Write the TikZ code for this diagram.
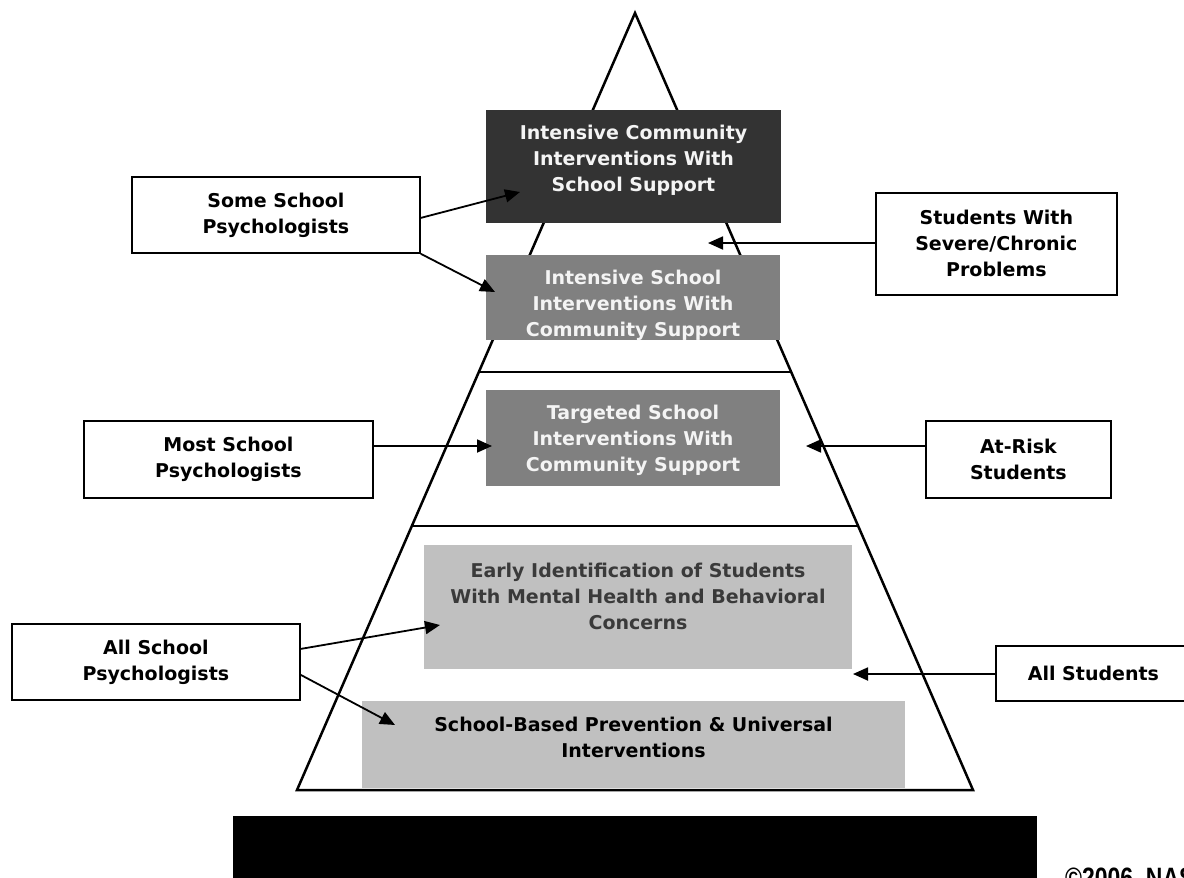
\documentclass[tikz,border=0pt]{standalone}
\usepackage{fontspec}
\setmainfont{DejaVu Sans}
\newfontfamily\copyfont{Liberation Sans}
\usetikzlibrary{arrows.meta}
\definecolor{tierA}{HTML}{333333}
\definecolor{tierB}{HTML}{808080}
\definecolor{tierC}{HTML}{C0C0C0}
\definecolor{txtA}{HTML}{F4F4F4}
\definecolor{txtC}{HTML}{3A3A3A}
\begin{document}
\begin{tikzpicture}[x=1pt,y=-1pt,
  txt/.style={font=\fontsize{19}{26}\selectfont\bfseries, align=center, inner sep=0pt},
  lbl/.style={draw=black, line width=1.8pt, fill=white, anchor=north west, inner sep=0pt},
  tier/.style={anchor=north west, inner sep=0pt, draw=none},
  arr/.style={line width=1.8pt, -{Triangle[length=15pt,width=13pt]}},
  edge/.style={line width=2.5pt, line join=miter},
  sep/.style={line width=2.2pt}
]
\clip (0,0) rectangle (1184,878);
\fill[white] (0,0) rectangle (1184,878);
% pyramid outline
\coordinate (apex) at (635,13);
\coordinate (bl) at (297,790);
\coordinate (br) at (973,790);
\draw[edge] (bl) -- (apex) -- (br) -- cycle;
% separators
\coordinate (s1l) at (479,372);
\coordinate (s1r) at (791,372);
\coordinate (s2l) at (412,526);
\coordinate (s2r) at (858,526);
\draw[sep] (s1l) -- (s1r);
\draw[sep] (s2l) -- (s2r);
% tiers
\node[tier, fill=tierA, minimum width=295pt, minimum height=113pt] (b1) at (486,110) {};
\node[tier, fill=tierB, minimum width=294pt, minimum height=85pt] (b2) at (486,255) {};
\node[tier, fill=tierB, minimum width=294pt, minimum height=96pt] (b3) at (486,390) {};
\node[tier, fill=tierC, minimum width=428pt, minimum height=124pt] (b4) at (424,545) {};
\node[tier, fill=tierC, minimum width=543pt, minimum height=87pt] (b5) at (362,701) {};
\node[txt, text=txtA] (t1) at (633.5,160) {Intensive Community\\Interventions With\\School Support};
\node[txt, text=txtA] (t2) at (633,305) {Intensive School\\Interventions With\\Community Support};
\node[txt, text=txtA] (t3) at (633,440) {Targeted School\\Interventions With\\Community Support};
\node[txt, text=txtC] (t4) at (638,596) {Early Identification of Students\\With Mental Health and Behavioral\\Concerns};
\node[txt, text=black] (t5) at (633.5,737.5) {School-Based Prevention \& Universal\\Interventions};
% label boxes
\node[lbl, minimum width=288pt, minimum height=76pt] (some) at (131,176) {};
\node[txt] (somet) at (some.center) {Some School\\Psychologists};
\node[lbl, minimum width=289pt, minimum height=77pt] (most) at (83,420) {};
\node[txt] (mostt) at (most.center) {Most School\\Psychologists};
\node[lbl, minimum width=288pt, minimum height=76pt] (allp) at (11,623) {};
\node[txt] (allpt) at (allp.center) {All School\\Psychologists};
\node[lbl, minimum width=241pt, minimum height=102pt] (sev) at (875,192) {};
\node[txt] (sevt) at (sev.center) {Students With\\Severe/Chronic\\Problems};
\node[lbl, minimum width=185pt, minimum height=77pt] (risk) at (925,420) {};
\node[txt] (riskt) at (risk.center) {At-Risk\\Students};
\node[lbl, minimum width=195pt, minimum height=55pt] (alls) at (995,645) {};
\node[txt] (allst) at (alls.center) {All Students};
% arrow tips
\coordinate (tipS1) at (520,192);
\coordinate (tipS2) at (495,292);
\coordinate (tipV) at (708,243);
\coordinate (tipM) at (492,446);
\coordinate (tipR) at (806,446);
\coordinate (tipA1) at (440,625);
\coordinate (tipA2) at (395,725);
\coordinate (tipU) at (853,674);
\draw[arr] ([yshift=-3pt]some.east) -- (tipS1);
\draw[arr] (some.south east) -- (tipS2);
\draw[arr] (sev.west |- tipV) -- (tipV);
\draw[arr] (most.east |- tipM) -- (tipM);
\draw[arr] (risk.west |- tipR) -- (tipR);
\draw[arr] ([yshift=13pt]allp.east) -- (tipA1);
\draw[arr] ([yshift=-13pt]allp.east) -- (tipA2);
\draw[arr] (alls.west |- tipU) -- (tipU);
% title bar and copyright
\node[tier, fill=black, minimum width=804pt, minimum height=70pt] (bar) at (233,816) {};
\node[anchor=base west, inner sep=0pt, font=\copyfont\bfseries\fontsize{28}{28}\selectfont] (copy) at (1065,887) {\scalebox{0.82}[1]{©2006, NASP}};
\end{tikzpicture}
\end{document}
